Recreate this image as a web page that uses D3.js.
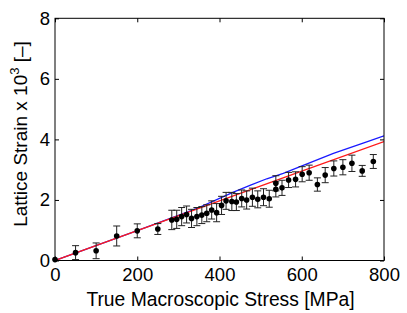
<!DOCTYPE html>
<html>
<head>
<meta charset="utf-8">
<script src="https://cdn.jsdelivr.net/npm/d3@7"></script>
<style>
html,body{margin:0;padding:0;background:#fff;}
svg{display:block;}
text{font-family:"Liberation Sans",Arial,Helvetica,sans-serif;fill:#000;}
</style>
</head>
<body>
<svg id="chart" width="407" height="313"></svg>
<script>
// Experimental data: stress [MPa], lattice strain x10^3, error (half-height)
const stress = [0, 50, 100, 150, 200, 250, 284, 296, 308, 320, 332, 345, 357, 369, 381, 393,
  405, 416, 430, 441, 454, 466, 480, 493, 507, 521, 537, 537, 552, 568, 585, 601, 618, 638, 657, 678, 700, 722, 747, 774];
const strain = [0.03, 0.26, 0.32, 0.81, 0.98, 1.04, 1.34, 1.36, 1.45, 1.52, 1.39, 1.45, 1.50, 1.56, 1.67, 1.58,
  1.82, 1.97, 1.95, 1.93, 2.05, 2.00, 2.09, 2.02, 2.09, 2.04, 2.35, 2.55, 2.40, 2.66, 2.68, 2.85, 2.90, 2.51, 2.82, 3.04, 3.08, 3.21, 2.96, 3.27];
const errs = [0.02, 0.23, 0.26, 0.33, 0.23, 0.18, 0.32, 0.30, 0.30, 0.28, 0.30, 0.30, 0.28, 0.28, 0.30, 0.30,
  0.30, 0.28, 0.30, 0.28, 0.28, 0.30, 0.30, 0.28, 0.28, 0.28, 0.25, 0.25, 0.25, 0.25, 0.25, 0.25, 0.25, 0.22, 0.25, 0.25, 0.25, 0.27, 0.18, 0.23];

// Model curves
const redX = [0, 200, 400, 600, 800];
const redY = [0, 0.99, 1.97, 2.95, 3.93];
const blueX = [0, 200, 300, 350, 400, 434, 474, 515, 555, 596, 677, 758, 800];
const blueY = [0, 0.99, 1.49, 1.75, 2.05, 2.26, 2.48, 2.70, 2.88, 3.10, 3.54, 3.92, 4.12];

const xTicks = [0, 200, 400, 600, 800];
const yTicks = [0, 2, 4, 6, 8];

const svg = d3.select("#chart");
const L = 55, R = 384, T = 18.3, B = 260.5;
const x = d3.scaleLinear().domain([0, 800]).range([L, R]);
const y = d3.scaleLinear().domain([0, 8]).range([B, T]);

svg.append("defs").append("clipPath").attr("id", "clip")
  .append("rect").attr("x", L).attr("y", T).attr("width", R - L).attr("height", B - T);

const plot = svg.append("g").attr("clip-path", "url(#clip)");

const line = d3.line().x(d => x(d[0])).y(d => y(d[1]));
plot.append("path").datum(blueX.map((v, i) => [v, blueY[i]]))
  .attr("d", line).attr("fill", "none").attr("stroke", "#1a1aff").attr("stroke-width", 1.3);
plot.append("path").datum(redX.map((v, i) => [v, redY[i]]))
  .attr("d", line).attr("fill", "none").attr("stroke", "#ff1a1a").attr("stroke-width", 1.3);

// error bars
const data = stress.map((s, i) => ({s, v: strain[i], e: errs[i]}));
const eb = svg.append("g").attr("stroke", "#222").attr("stroke-width", 1);
data.forEach(d => {
  if (d.e < 0.05) return;
  const cx = x(d.s);
  eb.append("line").attr("x1", cx).attr("x2", cx).attr("y1", y(d.v - d.e)).attr("y2", y(d.v + d.e));
  eb.append("line").attr("x1", cx - 3.5).attr("x2", cx + 3.5).attr("y1", y(d.v - d.e)).attr("y2", y(d.v - d.e));
  eb.append("line").attr("x1", cx - 3.5).attr("x2", cx + 3.5).attr("y1", y(d.v + d.e)).attr("y2", y(d.v + d.e));
});
svg.append("g").selectAll("circle").data(data).join("circle")
  .attr("cx", d => x(d.s)).attr("cy", d => y(d.v)).attr("r", 2.8).attr("fill", "#000");

// axes (inward ticks on all sides)
const tickLen = 4;
const axB = svg.append("g").attr("transform", `translate(0,${B})`)
  .call(d3.axisBottom(x).tickValues(xTicks).tickSize(-tickLen).tickPadding(7));
const axL = svg.append("g").attr("transform", `translate(${L},0)`)
  .call(d3.axisLeft(y).tickValues(yTicks).tickSize(-tickLen).tickPadding(5));
const axT = svg.append("g").attr("transform", `translate(0,${T})`)
  .call(d3.axisTop(x).tickValues(xTicks).tickSize(-tickLen).tickFormat(""));
const axR = svg.append("g").attr("transform", `translate(${R},0)`)
  .call(d3.axisRight(y).tickValues(yTicks).tickSize(-tickLen).tickFormat(""));
[axB, axL, axT, axR].forEach(a => {
  a.select(".domain").remove();
  a.selectAll("line").attr("stroke", "#000");
  a.selectAll("text").attr("font-size", 18.5).attr("font-family", "'Liberation Sans',Arial,sans-serif").attr("fill", "#000");
});
axB.selectAll("text").attr("dy", "0.71em");

svg.append("rect").attr("x", L).attr("y", T).attr("width", R - L).attr("height", B - T)
  .attr("fill", "none").attr("stroke", "#000").attr("stroke-width", 1);

// labels
svg.append("text").attr("x", 220.5).attr("y", 306).attr("text-anchor", "middle")
  .attr("font-size", 19.3).text("True Macroscopic Stress [MPa]");
const yl = svg.append("text").attr("transform", `translate(27,134) rotate(-90)`)
  .attr("text-anchor", "middle").attr("font-size", 19);
yl.append("tspan").text("Lattice Strain x 10");
yl.append("tspan").attr("dy", -8).attr("font-size", 13).text("3");
yl.append("tspan").attr("dy", 8).text(" [–]");
</script>
</body>
</html>
